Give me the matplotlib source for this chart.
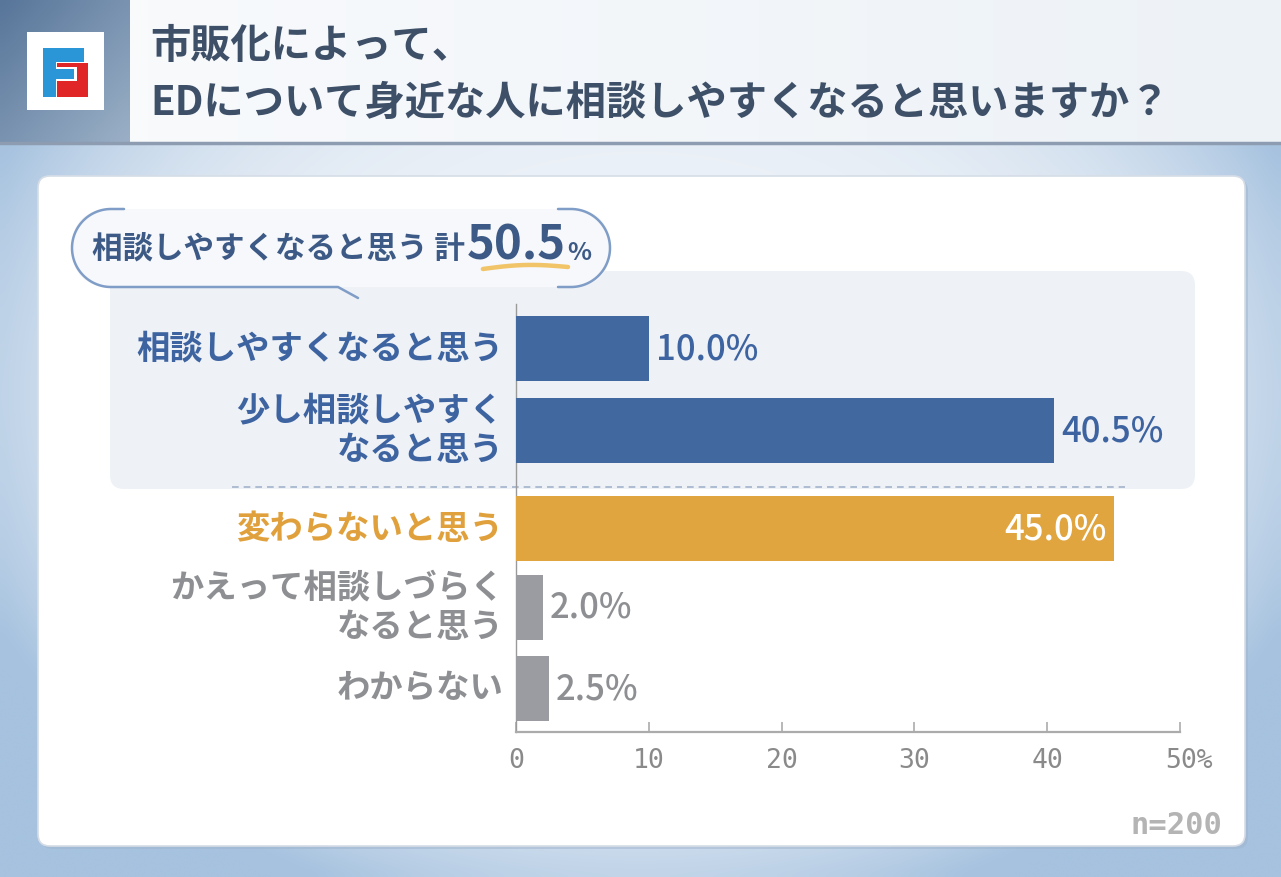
import numpy as np
import matplotlib
matplotlib.use("Agg")
import matplotlib.pyplot as plt
from matplotlib.patches import FancyBboxPatch, Rectangle
from matplotlib.colors import to_rgb

plt.rcParams['font.family'] = ['Noto Sans CJK JP', 'DejaVu Sans']

# ------------------------------------------------------------
# data
# ------------------------------------------------------------
title_lines = ["市販化によって、", "EDについて身近な人に相談しやすくなると思いますか？"]
categories = ["相談しやすくなると思う", "少し相談しやすく\nなると思う", "変わらないと思う",
              "かえって相談しづらく\nなると思う", "わからない"]
values = [10.0, 40.5, 45.0, 2.0, 2.5]
value_labels = ["10.0%", "40.5%", "45.0%", "2.0%", "2.5%"]
groups = ["easy", "easy", "same", "hard", "unknown"]
tick_values = [0, 10, 20, 30, 40, 50]
tick_labels = ["0", "10", "20", "30", "40", "50%"]
summary_label = "相談しやすくなると思う 計"
summary_value = "50.5"
sample_note = "n=200"

# ------------------------------------------------------------
# styles / layout (pixel based)
# ------------------------------------------------------------
W, H = 1281, 878
bar_colors = {"easy": "#41689f", "same": "#e1a53f", "hard": "#9a9ca1", "unknown": "#9a9ca1"}
label_colors = {"easy": "#3d64a0", "same": "#e0a13d", "hard": "#8e8f92", "unknown": "#8e8f92"}
row_y = [349, 431, 529, 608, 689]
bar_h = 65
ax_left, ax_right, ax_top, ax_bottom = 516, 1180, 305, 733
num_font = ["Noto Sans CJK JP", "DejaVu Sans"]

fig = plt.figure(figsize=(W / 100, H / 100), dpi=100)

bg = fig.add_axes([0, 0, 1, 1])
bg.set_xlim(0, W)
bg.set_ylim(H, 0)
bg.axis("off")


def gradient(c1, c2, n=64):
    a = np.array(to_rgb(c1))
    b = np.array(to_rgb(c2))
    t = np.linspace(0, 1, n)
    g = a[None, :] * (1 - t[:, None]) + b[None, :] * t[:, None]
    return g[None, :, :]


# background (pale wash, bluer at the edges)
gy, gx = np.mgrid[0:1:90j, 0:1:130j]
d = np.clip(np.sqrt(((gx - 0.5) / 0.56) ** 2 + ((gy - 0.45) / 0.62) ** 2), 0, 1) ** 4
c_in = np.array(to_rgb("#edf2f8"))
c_out = np.array(to_rgb("#a6c2df"))
bg_img = c_in * (1 - d[..., None]) + c_out * d[..., None]
bg.imshow(bg_img, extent=[0, W, H, 0], aspect="auto", interpolation="bicubic", zorder=0)

# header
bg.imshow(gradient("#f8fafc", "#edf2f7"), extent=[130, W, 143, 0], aspect="auto", zorder=1)
hy, hx = np.mgrid[0:1:20j, 0:1:20j]
t = (hx + hy) / 2
hb = np.array(to_rgb("#58769a")) * (1 - t[..., None]) + np.array(to_rgb("#9aafc6")) * t[..., None]
bg.imshow(hb, extent=[0, 130, 143, 0], aspect="auto", interpolation="bicubic", zorder=1)
bg.plot([0, W], [144, 144], color="#8d9cb1", lw=2.5, zorder=2)

# logo
bg.add_patch(Rectangle((27, 33), 77, 78, fc="white", ec="none", zorder=3))
bg.add_patch(Rectangle((57, 64), 31, 34, fc="#e02626", ec="none", zorder=4))
bg.add_patch(Rectangle((55, 68), 22, 14, fc="white", ec="none", zorder=4))
bg.add_patch(Rectangle((43, 49), 41, 14, fc="#2a96d8", ec="none", zorder=5))
bg.add_patch(Rectangle((43, 49), 13, 49, fc="#2a96d8", ec="none", zorder=5))
bg.add_patch(Rectangle((43, 70), 31, 10, fc="#2a96d8", ec="none", zorder=5))

for i, line in enumerate(title_lines):
    bg.text(150, 46 + i * 57, line, fontsize=29, fontweight="bold", color="#3e5068",
            va="center", ha="left", zorder=5)

# card
bg.add_patch(FancyBboxPatch((41, 180), 1207, 670, boxstyle="round,pad=0,rounding_size=12",
                            fc="#9fb4cc", ec="none", alpha=0.5, zorder=2))
bg.add_patch(FancyBboxPatch((38, 177), 1207, 670, boxstyle="round,pad=0,rounding_size=12",
                            fc="white", ec="#d6dde6", lw=1.2, zorder=3))

# shaded panel for the "easier" group
bg.add_patch(FancyBboxPatch((110, 272), 1085, 218, boxstyle="round,pad=0,rounding_size=14",
                            fc="#eef1f6", ec="none", zorder=4))
bg.plot([232, 1125], [488, 488], color="#a2b3ca", lw=1.2, ls=(0, (4, 3)), zorder=4)

# speech bubble
bg.add_patch(FancyBboxPatch((72, 210), 538, 78, boxstyle="round,pad=0,rounding_size=39",
                            fc="#f6f8fb", ec="none", zorder=5))
r = 39
tl = np.linspace(np.pi * 1.5, np.pi * 0.5, 60)
lx = np.concatenate([[124], 111 + r * np.cos(tl), [338, 358]])
ly = np.concatenate([[210], 249 + r * np.sin(tl), [288, 299]])
bg.plot(lx, ly, color="#7f9dc6", lw=1.8, solid_capstyle="round", zorder=6)
tr = np.linspace(-np.pi * 0.5, np.pi * 0.5, 60)
rx = np.concatenate([[558], 571 + r * np.cos(tr), [558]])
ry = np.concatenate([[210], 249 + r * np.sin(tr), [288]])
bg.plot(rx, ry, color="#7f9dc6", lw=1.8, solid_capstyle="round", zorder=6)

fig.canvas.draw()
renderer = fig.canvas.get_renderer()
t1 = bg.text(92, 250, summary_label, fontsize=22, fontweight="bold", color="#3c5a85",
             va="center", ha="left", zorder=7)
x1 = t1.get_window_extent(renderer).x1
t2 = bg.text(x1 + 2, 246, summary_value, fontsize=34, fontweight="bold", color="#3c5a85",
             va="center", ha="left", zorder=7, family=num_font)
e2 = t2.get_window_extent(renderer)
bg.text(e2.x1 + 1, 253, "%", fontsize=18, fontweight="bold", color="#3c5a85",
        va="center", ha="left", zorder=7, family=num_font)
sx = np.linspace(e2.x0 + 16, e2.x1 + 2, 30)
sy = 270 - 3 * np.sin(np.linspace(0, np.pi, 30)) + np.linspace(0, -2, 30)
bg.plot(sx, sy, color="#f1c468", lw=3.2, solid_capstyle="round", zorder=6)

# n
bg.text(1222, 826, sample_note, fontsize=22, fontweight="bold", color="#b4b4b4",
        family="DejaVu Sans Mono", ha="right", va="center", zorder=6)

# ------------------------------------------------------------
# chart
# ------------------------------------------------------------
ax = fig.add_axes([ax_left / W, 1 - ax_bottom / H, (ax_right - ax_left) / W, (ax_bottom - ax_top) / H])
ax.set_facecolor("none")
ax.set_xlim(0, 50)
ax.set_ylim(ax_bottom, ax_top)

ax.barh(row_y, values, height=bar_h, color=[bar_colors[g] for g in groups], zorder=3)

for y, v, lab, cat, g in zip(row_y, values, value_labels, categories, groups):
    if v > 42:
        ax.annotate(lab, xy=(v, y), xytext=(-5, 0), textcoords="offset points", ha="right",
                    va="center", fontsize=25, color="white", family=num_font,
                    fontweight="medium", zorder=4)
    else:
        ax.annotate(lab, xy=(v, y), xytext=(5, 0), textcoords="offset points", ha="left",
                    va="center", fontsize=25, color=label_colors[g], family=num_font,
                    fontweight="medium", zorder=4)
    ax.annotate(cat, xy=(0, y), xytext=(-9, 0), textcoords="offset points", ha="right", va="center",
                multialignment="right", linespacing=1.25, fontsize=24, fontweight="bold",
                color=label_colors[g], annotation_clip=False)

for s in ["top", "right"]:
    ax.spines[s].set_visible(False)
ax.spines["left"].set_color("#9a9a9a")
ax.spines["left"].set_linewidth(1.0)
ax.spines["bottom"].set_color("#ababab")
ax.spines["bottom"].set_linewidth(1.6)
ax.set_yticks([])
ax.set_xticks(tick_values)
ax.set_xticklabels([])
ax.tick_params(axis="x", direction="in", length=7, width=1.2, color="#ababab")

for v, lab in zip(tick_values, tick_labels):
    if lab.endswith("%"):
        ax.annotate(lab, xy=(v, 0), xycoords=("data", "axes fraction"), xytext=(-11, -20),
                    textcoords="offset points", ha="left", va="center", fontsize=19,
                    color="#8a8a8a", family="DejaVu Sans Mono", annotation_clip=False)
    else:
        ax.annotate(lab, xy=(v, 0), xycoords=("data", "axes fraction"), xytext=(0, -20),
                    textcoords="offset points", ha="center", va="center", fontsize=19,
                    color="#8a8a8a", family="DejaVu Sans Mono", annotation_clip=False)

fig.savefig("out.png", dpi=100)
